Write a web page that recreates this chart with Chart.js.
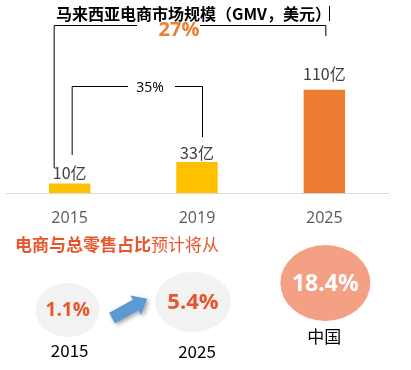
<!DOCTYPE html>
<html>
<head>
<meta charset="utf-8">
<script src="https://cdn.jsdelivr.net/npm/chart.js@4.4.1/dist/chart.umd.min.js"></script>
<style>
  html, body { margin: 0; padding: 0; background: #fff; }
  #wrap { width: 411px; height: 370px; position: relative; }
</style>
</head>
<body>
<div id="wrap"><canvas id="gmvChart"></canvas></div>
<script>
// dados do gráfico
const years = ['2015', '2019', '2025'];
const gmv = [10, 33, 110];                 // bilhões (亿) USD
const gmvLabels = ['10亿', '33亿', '110亿'];
const cagrLabels = ['27%', '35%'];
const shareLabels = ['2015', '2025', '中国'];
const shareValues = [1.1, 5.4, 18.4];

const barColors = ['#FFC000', '#FFC000', '#ED7D31'];
const labelOffsets = [11, 9, 16];
const orange = '#E8552B';
const cjk = '"Noto Sans CJK SC", "Noto Sans", sans-serif';

// estilo das bolhas de baixo (posição relativa ao eixo x)
const bubbles = [
    { dx: -2, y: 310, rx: 32, ry: 27, fill: '#F2F2F2', color: orange, size: 19, labelY: 351 },
    { dx: -4, y: 302, rx: 38, ry: 30, fill: '#F2F2F2', color: orange, size: 22, labelY: 352 },
    { dx: 1, y: 283, rx: 45, ry: 38, fill: '#F4A084', color: '#FFFFFF', size: 23, labelY: 337 }
];

function line(ctx, pts) {
    ctx.beginPath();
    ctx.moveTo(pts[0][0], pts[0][1]);
    for (let i = 1; i < pts.length; i++) ctx.lineTo(pts[i][0], pts[i][1]);
    ctx.stroke();
}

const decor = {
    id: 'decor',
    afterDatasetsDraw(chart) {
        const ctx = chart.ctx;
        const bars = chart.getDatasetMeta(0).data;
        const xs = chart.scales.x;
        ctx.save();

        // rótulos das barras
        ctx.fillStyle = '#404040';
        ctx.font = '16px ' + cjk;
        ctx.textAlign = 'center';
        ctx.textBaseline = 'middle';
        bars.forEach((b, i) => {
            ctx.fillText(gmvLabels[i], b.x, b.y - labelOffsets[i]);
        });

        // título
        ctx.fillStyle = '#000';
        ctx.font = 'bold 16px ' + cjk;
        ctx.textAlign = 'left';
        ctx.fillText('马来西亚电商市场规模（GMV，美元）', 56, 14);
        ctx.strokeStyle = '#000';
        ctx.lineWidth = 1;
        line(ctx, [[329.5, 6], [329.5, 21]]);

        // colchetes de crescimento
        const x0 = bars[0].x, x1 = bars[1].x, x2 = bars[2].x;
        line(ctx, [[x0 - 15.5, 168], [x0 - 15.5, 25.5], [137, 25.5]]);
        line(ctx, [[200, 25.5], [x2 + 1.5, 25.5], [x2 + 1.5, 36]]);
        line(ctx, [[x0 + 2.5, 155], [x0 + 2.5, 86.5], [128, 86.5]]);
        line(ctx, [[175, 86.5], [x1 + 5.5, 86.5], [x1 + 5.5, 137]]);

        ctx.textAlign = 'center';
        ctx.fillStyle = '#ED7D31';
        ctx.font = 'bold 20px "Open Sans", sans-serif';
        ctx.fillText(cagrLabels[0], 179, 30);
        ctx.fillStyle = '#000';
        ctx.font = '14px "Open Sans", sans-serif';
        ctx.fillText(cagrLabels[1], 150, 88);

        // subtítulo
        ctx.textAlign = 'left';
        ctx.fillStyle = orange;
        ctx.font = 'bold 17px ' + cjk;
        ctx.fillText('电商与总零售占比', 15, 245);
        const w = ctx.measureText('电商与总零售占比').width;
        ctx.font = '17px ' + cjk;
        ctx.fillText('预计将从', 15 + w, 245);

        // bolhas
        ctx.textAlign = 'center';
        shareValues.forEach((v, i) => {
            const s = bubbles[i];
            const cx = xs.getPixelForValue(i) + s.dx;
            ctx.fillStyle = s.fill;
            ctx.beginPath();
            ctx.ellipse(cx, s.y, s.rx, s.ry, 0, 0, Math.PI * 2);
            ctx.fill();
            ctx.fillStyle = s.color;
            ctx.font = 'bold ' + s.size + 'px "Open Sans", sans-serif';
            ctx.fillText(v.toFixed(1) + '%', cx, s.y + 1);
            ctx.fillStyle = '#000';
            ctx.font = '17px ' + cjk;
            ctx.fillText(shareLabels[i], xs.getPixelForValue(i), s.labelY);
        });

        // seta azul
        ctx.translate(112, 318);
        ctx.rotate(-0.5);
        ctx.shadowColor = 'rgba(0,0,0,0.35)';
        ctx.shadowBlur = 4;
        ctx.shadowOffsetX = 2;
        ctx.shadowOffsetY = 2;
        ctx.fillStyle = '#5B9BD5';
        ctx.beginPath();
        ctx.moveTo(0, -6);
        ctx.lineTo(27, -6);
        ctx.lineTo(27, -11);
        ctx.lineTo(40, 0);
        ctx.lineTo(27, 11);
        ctx.lineTo(27, 6);
        ctx.lineTo(0, 6);
        ctx.closePath();
        ctx.fill();

        ctx.restore();
    }
};

const ctx = document.getElementById('gmvChart').getContext('2d');
new Chart(ctx, {
    type: 'bar',
    data: {
        labels: years,
        datasets: [{
            data: gmv,
            backgroundColor: barColors,
            categoryPercentage: 1,
            barPercentage: 0.325
        }]
    },
    options: {
        responsive: true,
        maintainAspectRatio: false,
        animation: false,
        layout: { padding: { top: 24, left: 6, right: 23, bottom: 143 } },
        scales: {
            x: {
                grid: { display: false, drawTicks: false },
                border: { color: '#D9D9D9', width: 1 },
                ticks: { color: '#595959', font: { size: 16, family: '"Open Sans", sans-serif' }, padding: 16 },
                afterFit(scale) { scale.height = 34; }
            },
            y: { display: false, min: 0, max: 180 }
        },
        plugins: {
            legend: { display: false },
            tooltip: { enabled: false }
        }
    },
    plugins: [decor]
});
</script>
</body>
</html>
